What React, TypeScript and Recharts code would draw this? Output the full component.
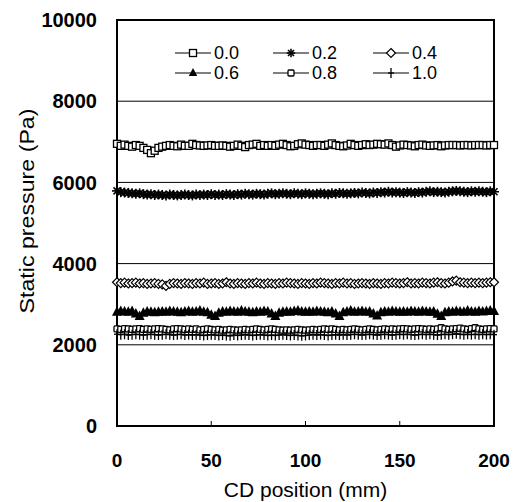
import React from 'react';
import { LineChart, Line, XAxis, YAxis, CartesianGrid, ReferenceArea, Legend } from 'recharts';

// CD position (mm)
const POSITIONS = [
  0, 2, 4, 6, 8, 10, 12, 14, 16, 18, 20, 22, 24, 26, 28, 30, 32, 34, 36, 38,
  40, 42, 44, 46, 48, 50, 52, 54, 56, 58, 60, 62, 64, 66, 68, 70, 72, 74, 76, 78,
  80, 82, 84, 86, 88, 90, 92, 94, 96, 98, 100, 102, 104, 106, 108, 110, 112, 114, 116, 118,
  120, 122, 124, 126, 128, 130, 132, 134, 136, 138, 140, 142, 144, 146, 148, 150, 152, 154, 156, 158,
  160, 162, 164, 166, 168, 170, 172, 174, 176, 178, 180, 182, 184, 186, 188, 190, 192, 194, 196, 198, 200,
];

// static pressure (Pa), one array per series
const P00 = [
  6950, 6900, 6930, 6900, 6880, 6920, 6900, 6850, 6800, 6720, 6780, 6850, 6880, 6900, 6920, 6900, 6890, 6930, 6900, 6900,
  6950, 6920, 6910, 6900, 6910, 6920, 6900, 6900, 6910, 6900, 6880, 6900, 6930, 6900, 6870, 6920, 6930, 6950, 6900, 6920,
  6900, 6920, 6900, 6930, 6950, 6920, 6890, 6900, 6940, 6960, 6930, 6920, 6900, 6920, 6920, 6900, 6930, 6960, 6920, 6900,
  6890, 6910, 6950, 6920, 6900, 6920, 6940, 6920, 6930, 6950, 6940, 6930, 6960, 6920, 6880, 6910, 6930, 6920, 6910, 6890,
  6920, 6930, 6910, 6900, 6910, 6920, 6890, 6910, 6920, 6920, 6920, 6910, 6920, 6920, 6910, 6920, 6920, 6920, 6910, 6920, 6920,
];
const P02 = [
  5790, 5760, 5750, 5740, 5730, 5720, 5730, 5710, 5700, 5710, 5690, 5700, 5690, 5680, 5700, 5690, 5680, 5690, 5700, 5690,
  5680, 5700, 5690, 5700, 5690, 5710, 5690, 5700, 5690, 5710, 5700, 5690, 5710, 5700, 5720, 5710, 5700, 5720, 5710, 5700,
  5720, 5730, 5710, 5720, 5730, 5720, 5710, 5730, 5720, 5710, 5730, 5720, 5710, 5720, 5730, 5720, 5710, 5730, 5720, 5740,
  5730, 5720, 5730, 5740, 5730, 5750, 5740, 5730, 5750, 5740, 5760, 5750, 5770, 5750, 5760, 5750, 5740, 5760, 5750, 5740,
  5760, 5750, 5770, 5780, 5760, 5770, 5760, 5750, 5770, 5780, 5790, 5780, 5770, 5760, 5780, 5770, 5780, 5770, 5760, 5780, 5770,
];
const P04 = [
  3540, 3520, 3530, 3510, 3520, 3530, 3510, 3520, 3500, 3510, 3520, 3500, 3490, 3450, 3500, 3520, 3510, 3500, 3520, 3510,
  3500, 3520, 3510, 3530, 3500, 3510, 3520, 3500, 3510, 3540, 3510, 3500, 3520, 3510, 3500, 3520, 3510, 3530, 3510, 3500,
  3520, 3510, 3500, 3520, 3510, 3530, 3520, 3510, 3500, 3520, 3510, 3500, 3520, 3510, 3530, 3520, 3510, 3500, 3520, 3510,
  3530, 3510, 3520, 3500, 3510, 3520, 3510, 3500, 3520, 3510, 3500, 3520, 3510, 3530, 3520, 3510, 3520, 3540, 3510, 3520,
  3510, 3530, 3520, 3510, 3530, 3540, 3520, 3510, 3530, 3560, 3580, 3540, 3530, 3520, 3530, 3520, 3530, 3520, 3530, 3540, 3540,
];
const P06 = [
  2800, 2820, 2810, 2800, 2820, 2760, 2700, 2780, 2810, 2800, 2790, 2800, 2810, 2800, 2820, 2810, 2800, 2790, 2810, 2820,
  2800, 2810, 2830, 2800, 2790, 2730, 2700, 2780, 2810, 2800, 2820, 2810, 2800, 2830, 2810, 2800, 2790, 2810, 2800, 2820,
  2810, 2760, 2700, 2780, 2800, 2810, 2800, 2820, 2830, 2810, 2800, 2810, 2800, 2820, 2810, 2800, 2790, 2810, 2760, 2700,
  2790, 2810, 2830, 2800, 2810, 2820, 2800, 2810, 2760, 2710, 2790, 2810, 2800, 2820, 2810, 2800, 2810, 2800, 2820, 2810,
  2800, 2820, 2810, 2800, 2810, 2750, 2700, 2790, 2810, 2800, 2820, 2810, 2800, 2830, 2810, 2800, 2820, 2810, 2820, 2830, 2820,
];
const P08 = [
  2390, 2380, 2400, 2390, 2380, 2390, 2400, 2380, 2390, 2380, 2390, 2400, 2390, 2380, 2370, 2390, 2400, 2390, 2380, 2390,
  2380, 2390, 2370, 2380, 2390, 2380, 2370, 2380, 2360, 2370, 2380, 2370, 2360, 2370, 2380, 2370, 2380, 2390, 2380, 2370,
  2380, 2390, 2380, 2370, 2360, 2370, 2360, 2370, 2380, 2370, 2360, 2370, 2380, 2370, 2380, 2390, 2380, 2390, 2380, 2370,
  2380, 2370, 2380, 2390, 2380, 2370, 2380, 2390, 2380, 2370, 2380, 2390, 2380, 2390, 2380, 2390, 2400, 2390, 2380, 2390,
  2400, 2390, 2380, 2390, 2380, 2390, 2420, 2390, 2380, 2390, 2400, 2410, 2390, 2380, 2400, 2420, 2390, 2380, 2390, 2400, 2390,
];
const P10 = [
  2260, 2250, 2260, 2240, 2250, 2260, 2250, 2240, 2250, 2260, 2250, 2240, 2250, 2260, 2250, 2240, 2250, 2260, 2240, 2250,
  2240, 2250, 2240, 2230, 2240, 2250, 2240, 2230, 2240, 2230, 2220, 2240, 2230, 2240, 2250, 2240, 2230, 2240, 2250, 2240,
  2230, 2240, 2230, 2240, 2250, 2240, 2230, 2240, 2230, 2220, 2230, 2240, 2250, 2240, 2250, 2240, 2230, 2240, 2250, 2240,
  2250, 2240, 2250, 2260, 2250, 2240, 2250, 2260, 2250, 2240, 2250, 2260, 2250, 2240, 2250, 2260, 2250, 2260, 2250, 2240,
  2250, 2260, 2250, 2260, 2250, 2240, 2250, 2260, 2250, 2260, 2270, 2260, 2250, 2260, 2250, 2260, 2250, 2260, 2250, 2260, 2250,
];

const Y_TICKS = [0, 2000, 4000, 6000, 8000, 10000];
const X_TICKS = [0, 50, 100, 150, 200];

const SERIES = [
  { key: 's00', name: '0.0', values: P00, marker: 'square' },
  { key: 's02', name: '0.2', values: P02, marker: 'star' },
  { key: 's04', name: '0.4', values: P04, marker: 'diamond' },
  { key: 's06', name: '0.6', values: P06, marker: 'triangle' },
  { key: 's08', name: '0.8', values: P08, marker: 'smallSquare' },
  { key: 's10', name: '1.0', values: P10, marker: 'plus' },
];

const data = POSITIONS.map((x, i) => {
  const row: any = { x };
  SERIES.forEach((s) => { row[s.key] = s.values[i]; });
  return row;
});

const FONT = '"Liberation Sans", Arial, sans-serif';

function Marker({ type, cx, cy, small }: { type: string; cx: number; cy: number; small?: boolean }) {
  if (cx == null || cy == null) return null;
  const k = small ? 0.85 : 1;
  switch (type) {
    case 'square':
      return <rect x={cx - 3.5} y={cy - 3.5} width={7} height={7} fill="#fff" stroke="#000" strokeWidth={1.3} />;
    case 'star':
      return (
        <g stroke="#000" strokeWidth={1.6}>
          <line x1={cx - 5 * k} y1={cy} x2={cx + 5 * k} y2={cy} />
          <line x1={cx - 3.5 * k} y1={cy - 3.5 * k} x2={cx + 3.5 * k} y2={cy + 3.5 * k} />
          <line x1={cx - 3.5 * k} y1={cy + 3.5 * k} x2={cx + 3.5 * k} y2={cy - 3.5 * k} />
          <line x1={cx} y1={cy - 5 * k} x2={cx} y2={cy + 5 * k} />
        </g>
      );
    case 'diamond':
      return (
        <polygon
          points={`${cx},${cy - 4.5} ${cx + 4.5},${cy} ${cx},${cy + 4.5} ${cx - 4.5},${cy}`}
          fill="#fff" stroke="#000" strokeWidth={1.2}
        />
      );
    case 'triangle':
      return <polygon points={`${cx},${cy - 6 * k} ${cx + 5 * k},${cy + 3.5 * k} ${cx - 5 * k},${cy + 3.5 * k}`} fill="#000" />;
    case 'smallSquare':
      return <rect x={cx - 3} y={cy - 3} width={6} height={6} rx={1} fill="#fff" stroke="#000" strokeWidth={1.3} />;
    case 'plus':
      return (
        <g stroke="#000" strokeWidth={1.3}>
          <line x1={cx} y1={cy - 5} x2={cx} y2={cy + 5} />
          <line x1={cx - 3} y1={cy} x2={cx + 3} y2={cy} />
        </g>
      );
    default:
      return null;
  }
}

// legend laid out 3 x 2 inside the plot, like the original figure
function LegendBox() {
  const cols = [15, 113, 213];
  const rows = [15, 35];
  return (
    <svg width={300} height={50} style={{ display: 'block' }}>
      {SERIES.map((s, i) => {
        const x = cols[i % 3];
        const y = rows[Math.floor(i / 3)];
        return (
          <g key={s.key}>
            <line x1={x} y1={y} x2={x + 36} y2={y} stroke="#000" strokeWidth={1} />
            <Marker type={s.marker} cx={x + 18} cy={y} small />
            <text x={x + 39} y={y + 6} fontSize={18} fontFamily={FONT} fill="#000">{s.name}</text>
          </g>
        );
      })}
    </svg>
  );
}

const YLabel = () => (
  <text
    transform="translate(34, 211) rotate(-90)"
    textAnchor="middle"
    fontSize={21}
    fontFamily={FONT}
    fill="#000"
    textLength={205}
    lengthAdjust="spacingAndGlyphs"
  >
    Static pressure (Pa)
  </text>
);

export default function App() {
  return (
    <div style={{ position: 'absolute', left: 0, top: 0, background: '#fff' }}>
      <LineChart width={513} height={502} data={data} margin={{ top: 20, right: 19, bottom: 0, left: 0 }}>
        <CartesianGrid vertical={false} stroke="#000" strokeWidth={1} />
        <XAxis
          dataKey="x"
          type="number"
          domain={[0, 200]}
          ticks={X_TICKS}
          height={76}
          tickSize={-5}
          tickMargin={33}
          axisLine={{ stroke: '#000', strokeWidth: 2 }}
          tickLine={{ stroke: '#000' }}
          tick={{ fontSize: 19, fontWeight: 700, fill: '#000', fontFamily: FONT }}
          label={{ value: 'CD position (mm)', position: 'insideBottom', offset: 5, fontSize: 21, fill: '#000', fontFamily: FONT }}
        />
        <YAxis
          type="number"
          domain={[0, 10000]}
          ticks={Y_TICKS}
          width={117}
          tickLine={false}
          tickMargin={14}
          axisLine={{ stroke: '#000', strokeWidth: 2 }}
          tick={{ fontSize: 20, fontWeight: 700, fill: '#000', fontFamily: FONT }}
          label={<YLabel />}
        />
        <ReferenceArea x1={0} x2={200} y1={0} y2={10000} fill="none" stroke="#000" strokeWidth={2} ifOverflow="visible" />
        {SERIES.map((s) => (
          <Line
            key={s.key}
            dataKey={s.key}
            name={s.name}
            stroke="#000"
            strokeWidth={1}
            isAnimationActive={false}
            dot={(p: any) => <Marker key={`${s.key}-${p.index}`} type={s.marker} cx={p.cx} cy={p.cy} />}
            activeDot={false}
          />
        ))}
        <Legend
          layout="horizontal"
          verticalAlign="middle"
          align="center"
          wrapperStyle={{ position: 'absolute', left: 160, top: 38, width: 300, height: 50 }}
          content={() => <LegendBox />}
        />
      </LineChart>
    </div>
  );
}
